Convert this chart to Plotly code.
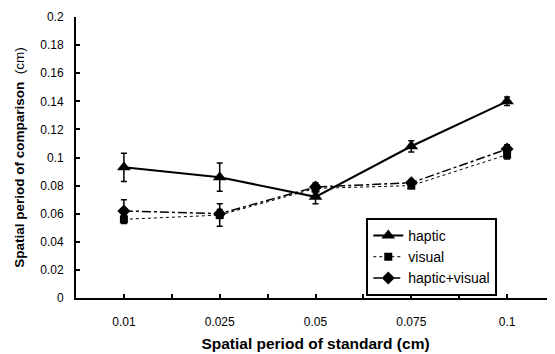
import plotly.graph_objects as go

categories = ["0.01", "0.025", "0.05", "0.075", "0.1"]
haptic = [0.093, 0.086, 0.072, 0.108, 0.140]
haptic_err = [0.010, 0.010, 0.005, 0.004, 0.003]
visual = [0.056, 0.059, 0.078, 0.080, 0.102]
visual_err = [0.003, 0.008, 0.003, 0.002, 0.003]
hv = [0.062, 0.060, 0.079, 0.082, 0.106]
hv_err = [0.008, 0.003, 0.003, 0.002, 0.003]
y_ticks = [0, 0.02, 0.04, 0.06, 0.08, 0.1, 0.12, 0.14, 0.16, 0.18, 0.2]
y_ticktext = ["0", "0.02", "0.04", "0.06", "0.08", "0.1", "0.12", "0.14", "0.16", "0.18", "0.2"]

xpos = list(range(len(categories)))

fig = go.Figure()
fig.add_trace(go.Scatter(
    x=xpos, y=haptic, name="haptic", mode="lines+markers",
    line=dict(color="black", width=2),
    marker=dict(symbol="triangle-up", size=12, color="black"),
    error_y=dict(type="data", array=haptic_err, color="black", thickness=1.5, width=3),
))
fig.add_trace(go.Scatter(
    x=xpos, y=visual, name="visual", mode="lines+markers",
    line=dict(color="black", width=1, dash="dot"),
    marker=dict(symbol="square", size=8, color="black"),
    error_y=dict(type="data", array=visual_err, color="black", thickness=1.5, width=3),
))
fig.add_trace(go.Scatter(
    x=xpos, y=hv, name="haptic+visual", mode="lines+markers",
    line=dict(color="black", width=1.5, dash="dashdot"),
    marker=dict(symbol="diamond", size=10, color="black"),
    error_y=dict(type="data", array=hv_err, color="black", thickness=1.5, width=3),
))

fig.update_layout(
    width=555, height=354,
    margin=dict(l=68, r=8, t=9, b=64),
    paper_bgcolor="white", plot_bgcolor="white",
    font=dict(family="Liberation Sans, Arial, sans-serif", size=12, color="black"),
    showlegend=True,
    legend=dict(
        x=0.606, y=0.285, xanchor="left", yanchor="top",
        bordercolor="black", borderwidth=2, bgcolor="white",
        traceorder="normal",
        font=dict(size=14),
        itemwidth=30,
        tracegroupgap=0,
    ),
)
fig.update_xaxes(
    range=[-0.5, 4.5], tickmode="array", tickvals=xpos, ticktext=categories,
    showline=True, linecolor="black", linewidth=2, automargin=False,
    ticks="inside", ticklen=4, tickwidth=1.5, tickcolor="black",
    minor=dict(ticks="inside", ticklen=4, tickwidth=1.5, tickcolor="black", tickmode="array", tickvals=[0.5, 1.5, 2.5, 3.5]),
    showgrid=False, zeroline=False,
    tickfont=dict(size=12), ticklabelstandoff=12,
    title=dict(text="<b>Spatial period of standard (cm)</b>", font=dict(size=15.5), standoff=10),
)
fig.update_yaxes(
    range=[0, 0.2], tickmode="array", tickvals=y_ticks, ticktext=y_ticktext,
    showline=True, linecolor="black", linewidth=2, automargin=False,
    ticks="inside", ticklen=4, tickwidth=1.5, tickcolor="black",
    showgrid=False, zeroline=False,
    tickfont=dict(size=12), ticklabelstandoff=8,
    title=dict(text="<b>Spatial period of comparison</b>  (cm)", font=dict(size=13.5), standoff=13),
)

fig.write_html("out.html")
